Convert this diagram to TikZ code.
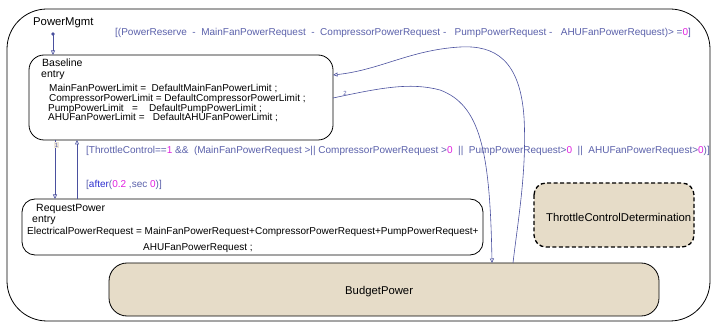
\documentclass[tikz,border=0pt]{standalone}
\usepackage{fontspec}
\setmainfont{Liberation Sans}
\usetikzlibrary{arrows.meta}
\definecolor{trans}{HTML}{4A509E}
\definecolor{lbl}{HTML}{5A60AA}
\definecolor{num}{HTML}{E020E0}
\definecolor{kw}{HTML}{2E30D0}
\definecolor{sand}{HTML}{E6DCC8}
\tikzset{
  chart/.style={draw=black, line width=0.8pt},
  statebox/.style={draw=black, line width=0.8pt, rounded corners=15pt},
  sandbox/.style={draw=black, line width=0.8pt, fill=sand},
  statename/.style={anchor=west, inner sep=0pt, font=\fontsize{11.3}{12}\selectfont},
  body/.style={anchor=west, inner sep=0pt, font=\fontsize{10}{10}\selectfont},
  guard/.style={anchor=west, inner sep=0pt, text=lbl, font=\fontsize{10}{10}\selectfont},
  tlabel/.style={inner sep=0.6pt, text=lbl, font=\fontsize{6}{6}\selectfont},
  trarrow/.style={draw=trans, line width=0.6pt, -{Triangle[open, length=4.5pt, width=4pt]}},
}
\newcommand{\nm}[1]{\textcolor{num}{#1}}
\begin{document}
\begin{tikzpicture}[x=1pt, y=-1pt]
\useasboundingbox (0,0) rectangle (715,323);

% outer chart
\draw[chart, rounded corners=40pt] (7,9) rectangle (710,321);
\node[statename] (pm) at (33,23) {PowerMgmt};

% states
\draw[statebox] (29,55) rectangle (333,140);
\coordinate (blTL) at (29,55);
\node[statename, font=\fontsize{10.5}{11}\selectfont] (bl) at (42,63) {Baseline};
\node[body, font=\fontsize{10.5}{11}\selectfont] (ble) at (41,75) {entry};
\node[body] (b1) at (49,89) {MainFanPowerLimit =\ \ DefaultMainFanPowerLimit ;};
\node[body] (b2) at (49,99) {CompressorPowerLimit = DefaultCompressorPowerLimit ;};
\node[body] (b3) at (48,109) {PumpPowerLimit\ \ \ =\ \ \ \ DefaultPumpPowerLimit ;};
\node[body] (b4) at (48,118) {AHUFanPowerLimit =\ \ \ DefaultAHUFanPowerLimit ;};

\draw[statebox, rounded corners=13pt] (22,199) rectangle (483,255);
\node[statename, font=\fontsize{10.5}{11}\selectfont] (rp) at (36,209) {RequestPower};
\node[body, font=\fontsize{10.5}{11}\selectfont] (rpe) at (32,220) {entry};
\node[body] (r1) at (27,232) {ElectricalPowerRequest = MainFanPowerRequest+CompressorPowerRequest+PumpPowerRequest+};
\node[body] (r2) at (143,248) {AHUFanPowerRequest ;};

\draw[sandbox, rounded corners=18pt] (109,263) rectangle (659,316);
\node[statename] (bp) at (345,292) {BudgetPower};

\draw[sandbox, dashed, line width=1.3pt, dash pattern=on 4pt off 2.5pt, rounded corners=12pt] (534,183) rectangle (694,247);
\node[statename] (tcd) at (546,217) {ThrottleControlDetermination};

% connection points on the state borders
\coordinate (dflt) at (53,34);
\coordinate (blTop) at (53,55);
\coordinate (blDownOut) at (55,140);
\coordinate (rpDownIn) at (55,199);
\coordinate (rpUpOut) at (77,199);
\coordinate (blUpIn) at (77,140);
\coordinate (blRightIn) at (333,75);
\coordinate (blRightOut) at (333,98);
\coordinate (bpTopIn) at (492,263);
\coordinate (bpTopOut) at (513,263);

% default transition
\fill[trans] (dflt) circle (1.8pt);
\draw[trarrow] (dflt) -- (blTop);

% Baseline <-> RequestPower
\draw[trarrow] (blDownOut) -- (rpDownIn);
\node[tlabel, fill=sand!70] (t1) at (56.5,145) {1};
\draw[trarrow] (rpUpOut) -- (blUpIn);

% Baseline <-> BudgetPower
\draw[trarrow] (bpTopOut) .. controls (518,220) and (527,170) .. (524,117)
  .. controls (520,60) and (495,45) .. (460,47)
  .. controls (410,50) and (380,70) .. (blRightIn);
\draw[trarrow] (blRightOut) .. controls (380,88) and (410,82) .. (440,90)
  .. controls (480,105) and (490,150) .. (bpTopIn);
\node[tlabel] (t2) at (345,93) {2};

% guards
\node[guard] (g1) at (115,33) {[(PowerReserve\ \ -\ \ MainFanPowerRequest\ \ -\ \ CompressorPowerRequest -\ \ \ PumpPowerRequest -\ \ \ AHUFanPowerRequest)> =\nm{0}]};
\node[guard] (g2) at (86,151) {[ThrottleControl==\nm{1} \&\&\ \ (MainFanPowerRequest >|| CompressorPowerRequest >\nm{0}\ \ ||\ \ PumpPowerRequest>\nm{0}\ \ ||\ \ AHUFanPowerRequest>\nm{0})]};
\node[guard] (g3) at (86,185) {[\textcolor{kw}{after}(\nm{0.2} ,sec \nm{0})]};

\end{tikzpicture}
\end{document}
